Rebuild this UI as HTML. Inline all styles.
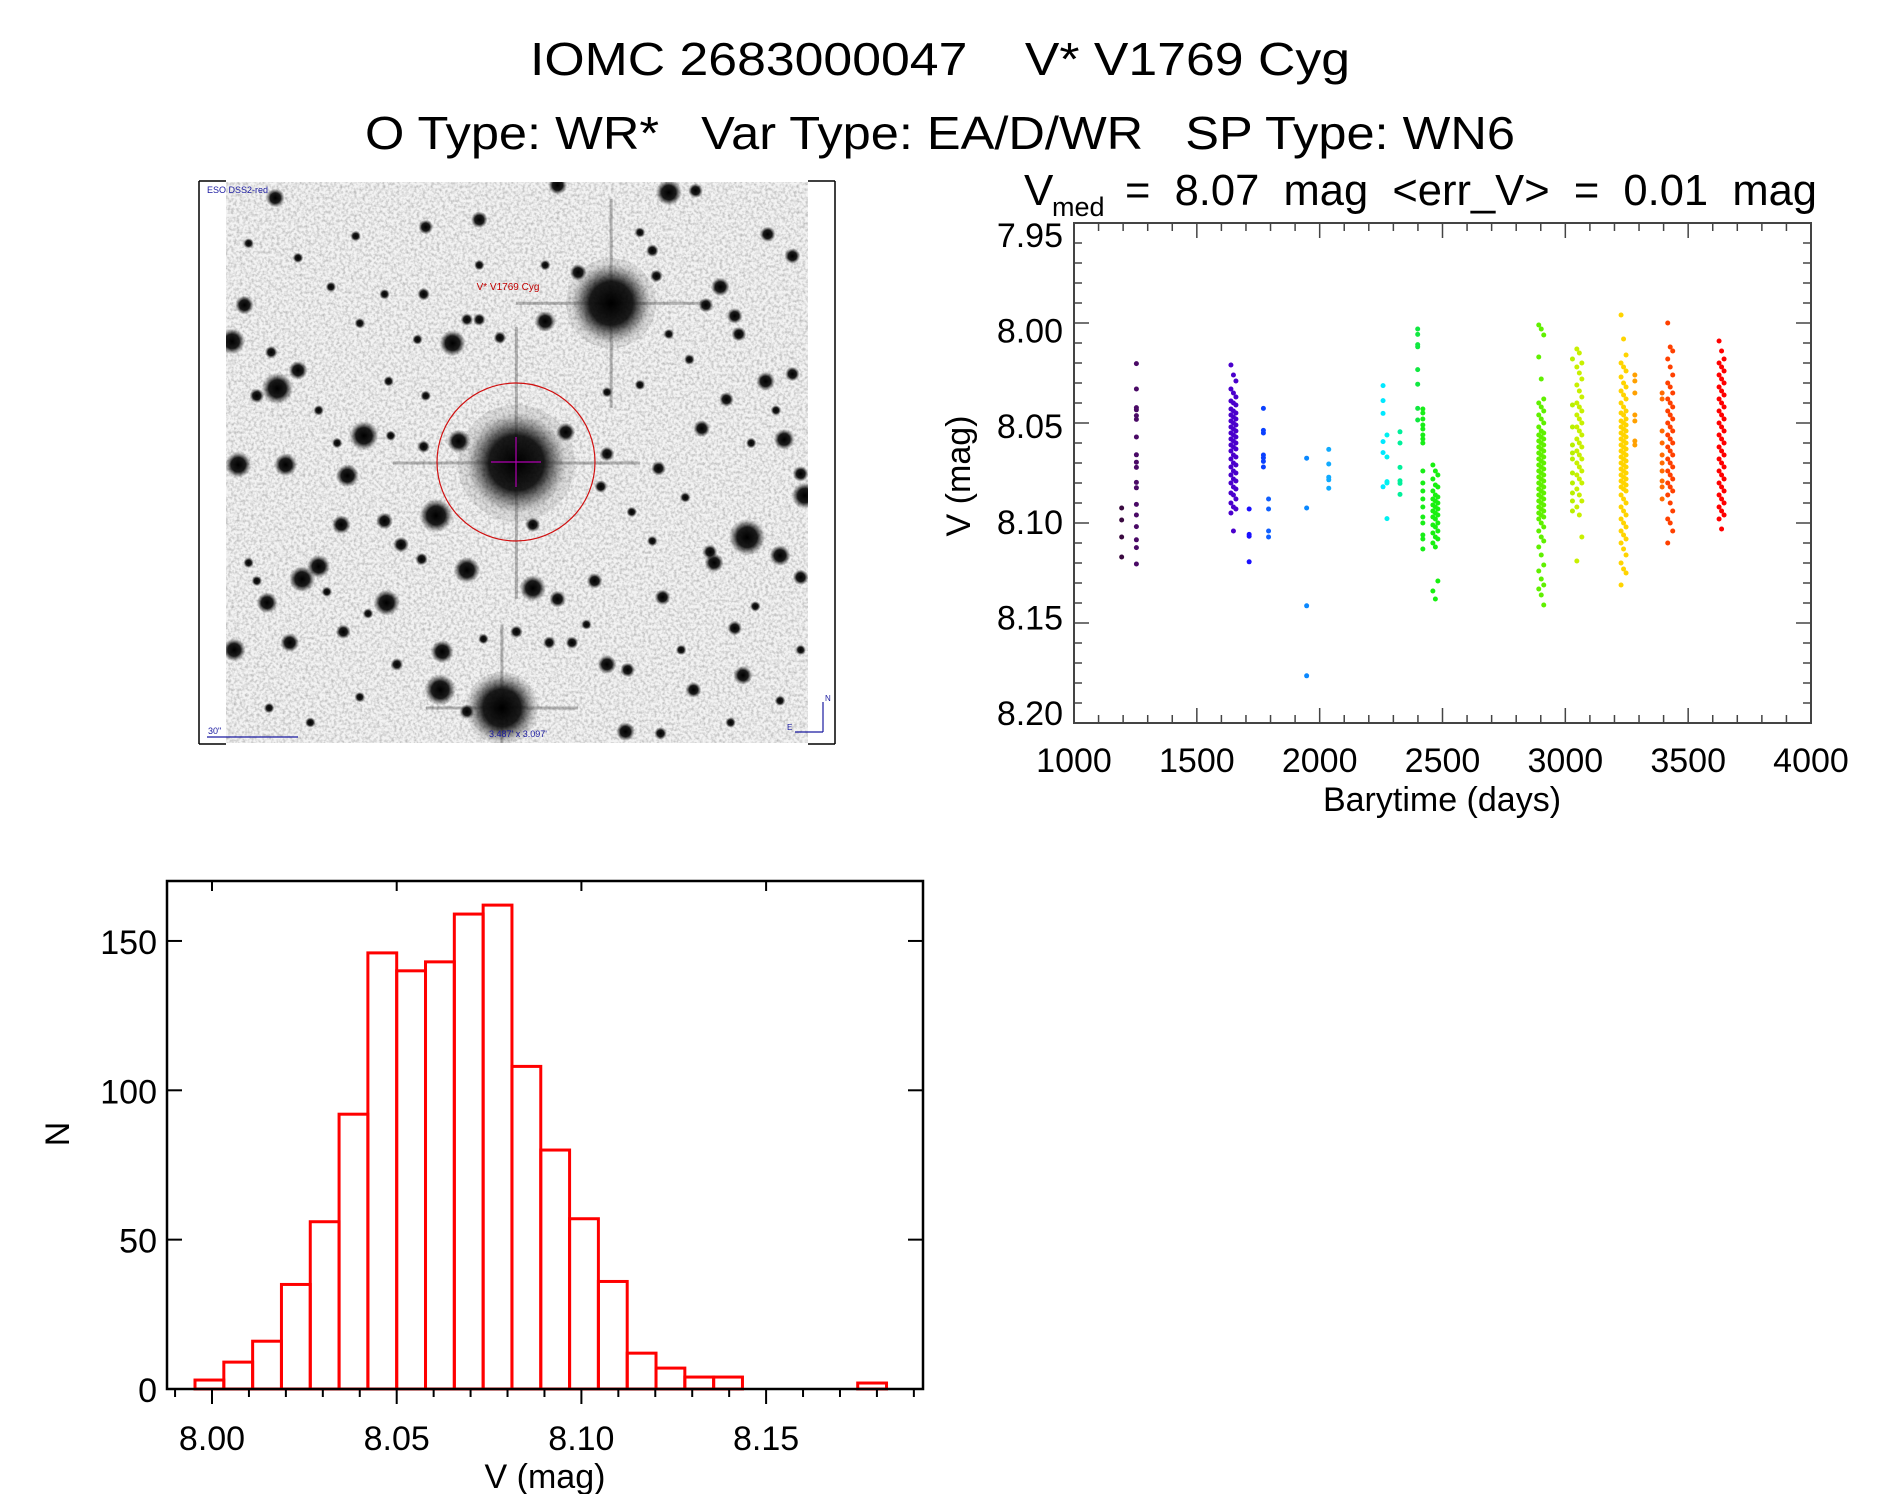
<!DOCTYPE html>
<html><head><meta charset="utf-8"><title>IOMC 2683000047</title>
<style>
html,body{margin:0;padding:0;background:#fff;}
svg{display:block;font-family:"Liberation Sans",sans-serif;}
text{white-space:pre;}
</style></head>
<body>
<svg id="root" width="1889" height="1494" viewBox="0 0 1889 1494" xmlns="http://www.w3.org/2000/svg">
<defs>
<radialGradient id="star" cx="50%" cy="50%" r="50%">
<stop offset="0" stop-color="#000" stop-opacity="1"/>
<stop offset="0.55" stop-color="#111" stop-opacity="0.95"/>
<stop offset="1" stop-color="#444" stop-opacity="0"/>
</radialGradient>
<filter id="grain" x="0" y="0" width="100%" height="100%">
<feTurbulence type="fractalNoise" baseFrequency="0.35" numOctaves="2" seed="3"/>
<feColorMatrix type="matrix" values="0 0 0 0 0  0 0 0 0 0  0 0 0 0 0  0 0 0 0.9 -0.35"/>
</filter>
<clipPath id="imgclip"><rect x="226" y="182" width="582" height="561"/></clipPath>
</defs>

<text x="940" y="75" text-anchor="middle" font-size="46" textLength="820" lengthAdjust="spacingAndGlyphs" xml:space="preserve">IOMC 2683000047    V* V1769 Cyg</text>
<text x="940" y="149" text-anchor="middle" font-size="46" textLength="1150" lengthAdjust="spacingAndGlyphs" xml:space="preserve">O Type: WR*   Var Type: EA/D/WR   SP Type: WN6</text>
<g>
<text x="1024" y="205" font-size="44">V</text>
<text x="1052" y="216" font-size="27">med</text>
<text x="1125" y="205" font-size="44" textLength="692" lengthAdjust="spacingAndGlyphs" xml:space="preserve">=  8.07  mag  &lt;err_V&gt;  =  0.01  mag</text>
</g>

<g id="image">
<rect x="226" y="182" width="582" height="561" fill="#f3f3f3"/>
<g clip-path="url(#imgclip)" id="stars"></g>
<rect x="226" y="182" width="582" height="561" filter="url(#grain)" opacity="0.55"/>
<line x1="199" y1="181" x2="199" y2="744" stroke="#000" stroke-width="1.5"/>
<line x1="835" y1="181" x2="835" y2="744" stroke="#000" stroke-width="1.5"/>
<line x1="199" y1="181" x2="226" y2="181" stroke="#000" stroke-width="1.5"/>
<line x1="808" y1="181" x2="835" y2="181" stroke="#000" stroke-width="1.5"/>
<line x1="199" y1="744" x2="226" y2="744" stroke="#000" stroke-width="1.5"/>
<line x1="808" y1="744" x2="835" y2="744" stroke="#000" stroke-width="1.5"/>
<text x="207" y="193" font-size="9" fill="#1a1aa0">ESO DSS2-red</text>
<text x="508" y="290" font-size="10" fill="#c00000" text-anchor="middle">V* V1769 Cyg</text>
<circle cx="516" cy="462" r="79" fill="none" stroke="#d01010" stroke-width="1.2"/>
<line x1="491" y1="462" x2="541" y2="462" stroke="#b000b0" stroke-width="1.2"/>
<line x1="516" y1="437" x2="516" y2="487" stroke="#b000b0" stroke-width="1.2"/>
<text x="518" y="737" font-size="9" fill="#1a1aa0" text-anchor="middle">3.487' x 3.097'</text>
<text x="208" y="734" font-size="9" fill="#1a1aa0">30"</text>
<line x1="207" y1="737" x2="298" y2="737" stroke="#1a1aa0" stroke-width="1.2"/>
<line x1="823" y1="732" x2="823" y2="702" stroke="#1a1aa0" stroke-width="1.2"/>
<line x1="823" y1="732" x2="795" y2="732" stroke="#1a1aa0" stroke-width="1.2"/>
<text x="825" y="701" font-size="8" fill="#1a1aa0">N</text>
<text x="787" y="730" font-size="8" fill="#1a1aa0">E</text>
</g>

<g id="lc"></g>
<g id="hist"></g>
</svg>

<script>
// ---------- Light curve data ----------
const groupTimes = [1194, 1254, 1649, 1713, 1771, 1792, 1947, 2037, 2258, 2274, 2327, 2399, 2420, 2471, 2902, 3029, 3057, 3237, 3283, 3394, 3427, 3636];
const groupColors = ["#3a0a40","#4a0a66","#4a00cc","#1a10ff","#0a40ff","#1060ff","#0a88ff","#10aaff","#00e8ff","#00f0f0","#00f09a","#10e840","#18ee18","#18f010","#60f000","#b8f000","#c8f000","#ffd400","#ffa000","#ff6a00","#ff4000","#ff0000"];
const mags1194 = [8.0925, 8.0985, 8.107, 8.117];
const mags1254 = [8.0203, 8.033, 8.0423, 8.0434, 8.0463, 8.0482, 8.057, 8.0659, 8.0696, 8.0722, 8.0797, 8.0824, 8.0907, 8.096, 8.1018, 8.1084, 8.1123, 8.1205];
const mags1649 = [8.021,8.026,8.029,8.033,8.035,8.037,8.039,8.040,8.041,8.043,8.044,8.045,8.046,8.047,8.048,8.049,8.050,8.051,8.052,8.053,8.054,8.055,8.056,8.057,8.058,8.059,8.060,8.061,8.062,8.063,8.064,8.066,8.067,8.068,8.070,8.071,8.072,8.074,8.075,8.076,8.078,8.079,8.080,8.082,8.083,8.085,8.086,8.088,8.090,8.092,8.093,8.095,8.104];
const mags1713 = [8.093, 8.1057, 8.1066, 8.1194];
const mags1771 = [8.0427, 8.0537, 8.055, 8.066, 8.0674, 8.0692, 8.072];
const mags1792 = [8.088, 8.093, 8.104, 8.107];
const mags1947 = [8.0676, 8.0925, 8.1414, 8.1764];
const mags2037 = [8.0632, 8.0705, 8.0771, 8.0784, 8.0826];
const mags2258 = [8.0313, 8.0388, 8.0452, 8.0593, 8.0648, 8.0819];
const mags2274 = [8.056, 8.067, 8.0793, 8.080, 8.0978];
const mags2327 = [8.0544, 8.060, 8.0722, 8.0789, 8.0802, 8.0857];
const mags2399 = [8.003, 8.0057, 8.0108, 8.0119, 8.0233, 8.0306, 8.0427, 8.0485];
const mags2420 = [8.043,8.045,8.048,8.051,8.053,8.056,8.058,8.060,8.074,8.080,8.084,8.088,8.092,8.097,8.100,8.106,8.108,8.113];
const mags2471 = [8.071,8.074,8.076,8.078,8.081,8.082,8.084,8.086,8.087,8.088,8.089,8.090,8.091,8.092,8.093,8.094,8.095,8.096,8.097,8.098,8.100,8.101,8.102,8.104,8.105,8.107,8.108,8.110,8.112,8.129,8.134,8.138];
const mags2902 = [8.001,8.003,8.006,8.017,8.028,8.038,8.040,8.042,8.044,8.046,8.048,8.050,8.052,8.054,8.055,8.056,8.057,8.058,8.059,8.060,8.061,8.062,8.063,8.064,8.065,8.066,8.067,8.068,8.069,8.070,8.071,8.072,8.073,8.074,8.075,8.076,8.077,8.078,8.079,8.080,8.081,8.082,8.083,8.084,8.085,8.086,8.087,8.088,8.089,8.090,8.091,8.092,8.093,8.094,8.095,8.096,8.097,8.098,8.100,8.102,8.104,8.107,8.109,8.112,8.116,8.121,8.124,8.128,8.131,8.133,8.136,8.141];
const mags3029 = [8.018,8.041,8.052,8.061,8.065,8.068,8.075,8.080,8.085,8.089,8.094];
const mags3057 = [8.013,8.015,8.020,8.022,8.025,8.028,8.031,8.034,8.037,8.040,8.042,8.044,8.046,8.048,8.050,8.052,8.054,8.056,8.058,8.060,8.062,8.064,8.066,8.068,8.070,8.072,8.074,8.076,8.078,8.080,8.083,8.086,8.089,8.092,8.096,8.107,8.119];
const mags3237 = [7.996,8.008,8.016,8.020,8.022,8.024,8.027,8.030,8.032,8.034,8.036,8.038,8.040,8.042,8.044,8.045,8.046,8.048,8.049,8.050,8.051,8.052,8.053,8.054,8.055,8.056,8.057,8.058,8.059,8.060,8.061,8.062,8.063,8.064,8.065,8.066,8.067,8.068,8.069,8.070,8.071,8.072,8.073,8.074,8.075,8.076,8.077,8.078,8.079,8.080,8.081,8.082,8.083,8.084,8.086,8.088,8.090,8.092,8.094,8.096,8.098,8.100,8.102,8.104,8.106,8.108,8.110,8.113,8.116,8.120,8.123,8.125,8.131];
const mags3283 = [8.026,8.029,8.035,8.046,8.049,8.059,8.061];
const mags3394 = [8.035,8.038,8.054,8.060,8.066,8.070,8.074,8.079,8.082,8.088];
const mags3427 = [8.000,8.012,8.014,8.018,8.022,8.026,8.030,8.032,8.035,8.038,8.040,8.042,8.044,8.046,8.048,8.050,8.052,8.054,8.056,8.058,8.060,8.062,8.064,8.066,8.068,8.070,8.072,8.074,8.076,8.078,8.080,8.082,8.084,8.086,8.090,8.094,8.098,8.100,8.104,8.110];
const mags3636 = [8.009,8.014,8.018,8.020,8.022,8.024,8.026,8.028,8.030,8.032,8.034,8.036,8.038,8.040,8.042,8.044,8.046,8.048,8.050,8.052,8.054,8.056,8.058,8.060,8.062,8.064,8.066,8.068,8.070,8.072,8.074,8.076,8.078,8.080,8.082,8.084,8.086,8.088,8.090,8.092,8.094,8.096,8.098,8.103];
const groupMags = [mags1194, mags1254, mags1649, mags1713, mags1771, mags1792, mags1947, mags2037, mags2258, mags2274, mags2327, mags2399, mags2420, mags2471, mags2902, mags3029, mags3057, mags3237, mags3283, mags3394, mags3427, mags3636];
const lcXTicks = [1000, 1500, 2000, 2500, 3000, 3500, 4000];
const lcXTickLabels = ["1000","1500","2000","2500","3000","3500","4000"];
const lcYTicks = [7.95, 8.00, 8.05, 8.10, 8.15, 8.20];
const lcYTickLabels = ["7.95","8.00","8.05","8.10","8.15","8.20"];

// ---------- Histogram data ----------
const binStart = 7.9954;
const binWidth = 0.0078;
const binCounts = [3, 9, 16, 35, 56, 92, 146, 140, 143, 159, 162, 108, 80, 57, 36, 12, 7, 4, 4, 0, 0, 0, 0, 2];
const histXTicks = [8.00, 8.05, 8.10, 8.15];
const histXTickLabels = ["8.00","8.05","8.10","8.15"];
const histYTicks = [0, 50, 100, 150];
const histYTickLabels = ["0","50","100","150"];

const NS = "http://www.w3.org/2000/svg";
function mk(tag, attrs, parent) {
  const e = document.createElementNS(NS, tag);
  for (const k in attrs) e.setAttribute(k, attrs[k]);
  parent.appendChild(e);
  return e;
}

// ---------- star field (decorative image) ----------
const starG = document.getElementById('stars');
const starList = [[1010,345,75],[780,785,95],[745,1460,65],[195,55,18],[880,20,18],[1150,40,25],[120,350,18],[850,395,20],[625,455,25],[90,450,25],[250,530,18],[200,580,30],[410,710,28],[220,790,22],[105,790,25],[370,820,22],[640,725,22],[900,700,18],[585,930,32],[355,955,18],[460,945,16],[260,1105,25],[300,1070,22],[175,1170,20],[465,1170,25],[660,1080,25],[820,1130,25],[880,1160,16],[970,1110,15],[1135,1155,15],[1340,990,35],[1420,1040,20],[1430,720,20],[1480,875,25],[1470,815,15],[1385,560,18],[1450,215,15],[1390,155,15],[1275,300,18],[1240,350,14],[1310,380,15],[1320,430,14],[1230,690,16],[1125,800,14],[1000,760,14],[985,850,12],[600,1305,22],[595,1410,30],[1000,1340,18],[1050,1355,14],[1330,1370,18],[1045,1525,18],[95,1300,22],[230,1280,18],[1470,1100,15],[1260,1060,18],[1250,1030,14],[930,260,16],[690,115,16],[560,135,14],[1215,35,14],[1450,540,14],[1290,610,14],[500,1010,15],[550,1050,12],[820,955,14],[1310,1240,14],[1210,1410,15],[1130,1530,12],[860,1280,12],[915,1280,12],[360,1250,14],[490,1340,12],[660,1470,14],[1120,270,12],[1110,200,12],[1080,150,10],[390,160,10],[460,320,10],[555,320,12],[540,445,10],[740,440,12],[690,240,10],[850,240,10],[660,390,12],[690,390,12],[345,730,10],[475,710,10],[555,740,12],[150,600,14],[185,480,12],[1000,590,10],[1080,570,10],[130,1060,10],[150,1110,10],[320,1140,10],[420,1200,10],[700,1270,10],[780,1250,12],[950,1230,10],[1180,1300,10],[1420,1440,10],[1300,1500,10],[280,1500,10],[400,1430,10],[180,1460,10],[1360,1180,10],[1470,1300,10],[1410,640,10],[1350,730,10],[1200,500,10],[1150,430,10],[400,400,10],[330,300,10],[250,220,10],[130,180,10],[300,640,10],[470,560,10],[560,600,10],[1190,880,10],[1110,1000,10],[1060,920,10]];
// diffraction spikes
[[1010,345,1.0],[780,785,1.3],[745,1460,0.8]].forEach(s => {
  const cx = 195 + s[0]*0.412, cy = 178 + s[1]*0.363, L = 95*s[2];
  mk('line', {x1: cx-L, y1: cy, x2: cx+L, y2: cy, stroke: '#666', 'stroke-width': 3, opacity: 0.45}, starG);
  mk('line', {x1: cx, y1: cy-L*1.1, x2: cx, y2: cy+L*1.1, stroke: '#666', 'stroke-width': 3, opacity: 0.45}, starG);
  mk('circle', {cx: cx, cy: cy, r: 45*s[2], fill: '#888', opacity: 0.2}, starG);
});
starList.forEach(s => {
  const c = mk('circle', {cx: 195 + s[0]*0.412, cy: 178 + s[1]*0.363, r: s[2]*0.39*1.35, fill: 'url(#star)'}, starG);
  
  
});

// ---------- Light curve ----------
const lc = document.getElementById('lc');
const LX0 = 1074, LX1 = 1811, LY0 = 223, LY1 = 723;
const xs = t => LX0 + (t - 1000) / 3000 * (LX1 - LX0);
const ys = m => LY0 + (m - 7.95) / 0.25 * (LY1 - LY0);
const ylab = m => 247 + (m - 7.95) / 0.25 * 478;
const axCol = '#444';
for (let t = 1000; t <= 4000; t += 100) {
  const major = (t % 500 === 0);
  const len = major ? 15 : 8;
  mk('line', {x1: xs(t), y1: LY1, x2: xs(t), y2: LY1 - len, stroke: axCol, 'stroke-width': 1.5}, lc);
  mk('line', {x1: xs(t), y1: LY0, x2: xs(t), y2: LY0 + len, stroke: axCol, 'stroke-width': 1.5}, lc);
}
for (let i = 0; i <= 25; i++) {
  const m = 7.95 + i * 0.01;
  const major = (i % 5 === 0);
  const len = major ? 15 : 8;
  mk('line', {x1: LX0, y1: ys(m), x2: LX0 + len, y2: ys(m), stroke: axCol, 'stroke-width': 1.5}, lc);
  mk('line', {x1: LX1, y1: ys(m), x2: LX1 - len, y2: ys(m), stroke: axCol, 'stroke-width': 1.5}, lc);
}
const lcFrame = mk('rect', {x: LX0, y: LY0, width: LX1 - LX0, height: LY1 - LY0, fill: 'none', stroke: axCol, 'stroke-width': 2}, lc);


lcXTicks.forEach((t, i) => {
  const tx = mk('text', {x: xs(t), y: 772, 'text-anchor': 'middle', 'font-size': 34}, lc);
  tx.textContent = lcXTickLabels[i];
  
  
});
lcYTicks.forEach((m, i) => {
  const tx = mk('text', {x: 1063, y: ylab(m), 'text-anchor': 'end', 'font-size': 34}, lc);
  tx.textContent = lcYTickLabels[i];
  
  
});
const xt = mk('text', {x: 1442, y: 811, 'text-anchor': 'middle', 'font-size': 34}, lc);
xt.textContent = 'Barytime (days)';


const yt = mk('text', {x: 0, y: 0, 'text-anchor': 'middle', 'font-size': 34, transform: 'translate(970,476) rotate(-90)'}, lc);
yt.textContent = 'V (mag)';


groupTimes.forEach((t, g) => {
  const gg = mk('g', {fill: groupColors[g]}, lc);
  
  
  groupMags[g].forEach((m, i) => {
    const dx = groupMags[g].length > 20 ? ((i % 3) - 1) * 2.5 : 0;
    const p = mk('circle', {cx: xs(t) + dx, cy: ys(m), r: 2.5}, gg);
    
    
  });
});

// ---------- Histogram ----------
const hs = document.getElementById('hist');
const HX0 = 167, HX1 = 923, HY0 = 881, HY1 = 1389;
const hx = v => 212 + (v - 8.00) / 0.05 * 184.7;
const hy = n => HY1 - n * 2.987;
binCounts.forEach((n, i) => {
  const a = binStart + i * binWidth;
  const r = mk('rect', {x: hx(a), y: hy(n), width: hx(a + binWidth) - hx(a), height: HY1 - hy(n), fill: 'none', stroke: '#ff0000', 'stroke-width': 3}, hs);
  
  
});
const hFrame = mk('rect', {x: HX0, y: HY0, width: HX1 - HX0, height: HY1 - HY0, fill: 'none', stroke: '#000', 'stroke-width': 2.5}, hs);


for (let i = -1; i <= 19; i++) {
  const v = 8.00 + i * 0.01;
  if (hx(v) < HX0 || hx(v) > HX1) continue;
  const major = (i % 5 === 0);
  mk('line', {x1: hx(v), y1: HY1, x2: hx(v), y2: HY1 + (major ? 15 : 8), stroke: '#000', 'stroke-width': 2}, hs);
  if (major) mk('line', {x1: hx(v), y1: HY0, x2: hx(v), y2: HY0 + 10, stroke: '#000', 'stroke-width': 2}, hs);
}
histYTicks.forEach((n, i) => {
  mk('line', {x1: HX0, y1: hy(n), x2: HX0 + 15, y2: hy(n), stroke: '#000', 'stroke-width': 2}, hs);
  mk('line', {x1: HX1, y1: hy(n), x2: HX1 - 15, y2: hy(n), stroke: '#000', 'stroke-width': 2}, hs);
  const tx = mk('text', {x: 157, y: hy(n) + 13, 'text-anchor': 'end', 'font-size': 34}, hs);
  tx.textContent = histYTickLabels[i];
  
  
});
histXTicks.forEach((v, i) => {
  const tx = mk('text', {x: hx(v), y: 1450, 'text-anchor': 'middle', 'font-size': 34}, hs);
  tx.textContent = histXTickLabels[i];
  
  
});
const hxt = mk('text', {x: 545, y: 1488, 'text-anchor': 'middle', 'font-size': 34}, hs);
hxt.textContent = 'V (mag)';


const hyt = mk('text', {x: 0, y: 0, 'text-anchor': 'middle', 'font-size': 34, transform: 'translate(69,1134) rotate(-90)'}, hs);
hyt.textContent = 'N';


</script>
</body></html>
